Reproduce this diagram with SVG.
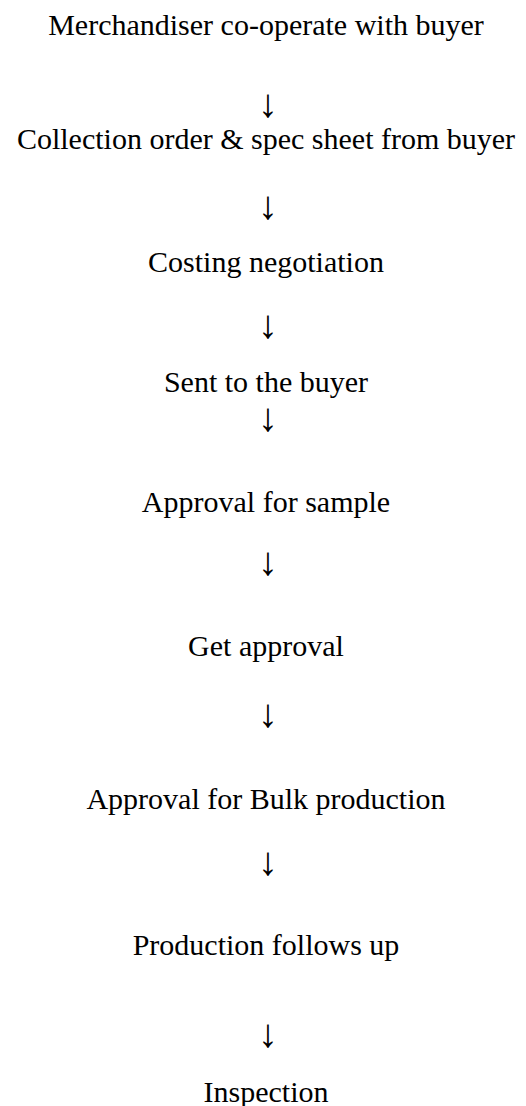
<svg xmlns="http://www.w3.org/2000/svg" width="526" height="1106" viewBox="0 0 526 1106">
<style>
text{font-family:"Liberation Serif","Times New Roman",serif;font-size:30px;fill:#000;text-anchor:middle}
.a{font-size:40px}
</style>
<rect width="526" height="1106" fill="#fff"/>
<g id="connectors">
<text class="a" x="268" y="117">↓</text>
<text class="a" x="268" y="219">↓</text>
<text class="a" x="268" y="338">↓</text>
<text class="a" x="268" y="431">↓</text>
<text class="a" x="268" y="575">↓</text>
<text class="a" x="268" y="727">↓</text>
<text class="a" x="268" y="875">↓</text>
<text class="a" x="268" y="1047">↓</text>
</g>
<g id="n1"><text x="266" y="35">Merchandiser co-operate with buyer</text></g>
<g id="n2"><text x="266" y="149">Collection order &amp; spec sheet from buyer</text></g>
<g id="n3"><text x="266" y="272">Costing negotiation</text></g>
<g id="n4"><text x="266" y="392">Sent to the buyer</text></g>
<g id="n5"><text x="266" y="512">Approval for sample</text></g>
<g id="n6"><text x="266" y="656">Get approval</text></g>
<g id="n7"><text x="266" y="809">Approval for Bulk production</text></g>
<g id="n8"><text x="266" y="955">Production follows up</text></g>
<g id="n9"><text x="266" y="1102">Inspection</text></g>
</svg>
